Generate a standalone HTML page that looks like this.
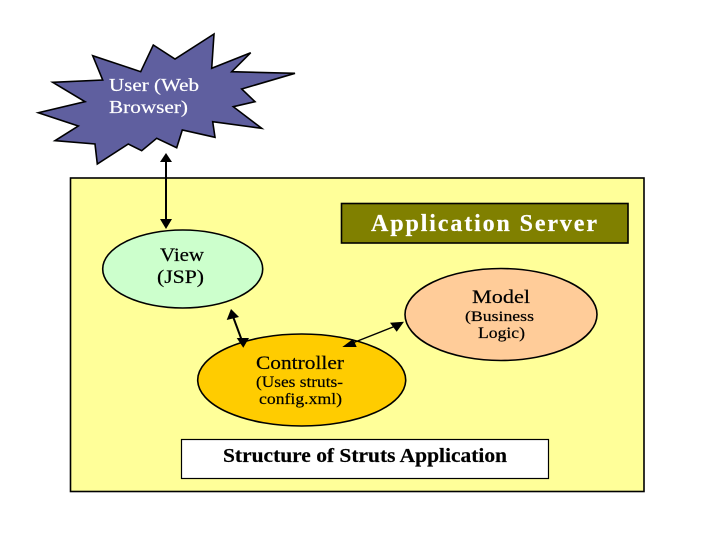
<!DOCTYPE html>
<html>
<head>
<meta charset="utf-8">
<style>
html,body{margin:0;padding:0;background:#fff;}
svg{display:block;}
text{font-family:"Liberation Serif",serif;fill:#000;stroke:#000;stroke-width:.2;}
text.w{fill:#fff;stroke:#fff;}
</style>
</head>
<body>
<svg width="720" height="540" viewBox="0 0 720 540" xmlns="http://www.w3.org/2000/svg">
<rect x="0" y="0" width="720" height="540" fill="#fff"/>
<polygon points="214,34 211.7,68.3 250.7,52.7 231.7,71.7 295,73.3 241.7,89 255,101.7 233.3,106.7 261.7,128.3 212.7,121.7 215,137.3 182.3,130 176.7,147.7 156.7,138.3 141.7,150.7 128.3,144 97.3,164 95,144 55,140.7 78.3,126 38.3,112.7 85,101.7 52.7,82.3 102.7,80 92.7,55.7 140.7,71.7 153.3,45 175,59" fill="#5f5f9f" stroke="#000" stroke-width="1.6" stroke-linejoin="miter"/>
<rect x="70.5" y="178" width="573.5" height="313.5" fill="#ffff99" stroke="#000" stroke-width="1.6"/>
<rect x="341.5" y="203.5" width="286.5" height="39.5" fill="#808000" stroke="#000" stroke-width="1.6"/>
<rect x="181.5" y="439.5" width="367" height="39" fill="#fff" stroke="#000" stroke-width="1.2"/>
<ellipse cx="182.7" cy="269" rx="80" ry="39" fill="#ccffcc" stroke="#000" stroke-width="1.6"/>
<ellipse cx="501" cy="314.5" rx="96" ry="46" fill="#ffcc99" stroke="#000" stroke-width="1.6"/>
<ellipse cx="301.7" cy="380" rx="104" ry="46" fill="#ffcc00" stroke="#000" stroke-width="1.6"/>
<line x1="166" y1="158" x2="166" y2="222" stroke="#000" stroke-width="2"/>
<polygon points="166,153 172,162 160,162" fill="#000"/>
<polygon points="166,229 160,219 172,219" fill="#000"/>
<line x1="231.7" y1="313" x2="241.7" y2="340" stroke="#000" stroke-width="2"/>
<polygon points="231,309 239,317 226.7,320" fill="#000"/>
<polygon points="243.3,347.7 236.7,338 249,338" fill="#000"/>
<line x1="350" y1="344" x2="398" y2="325" stroke="#000" stroke-width="1.4"/>
<polygon points="404,321.7 390,322.7 396.7,331.7" fill="#000"/>
<polygon points="342.3,347 353,339 356.7,347" fill="#000"/>
<text class="w" x="109" y="91" font-size="18" textLength="90" lengthAdjust="spacingAndGlyphs">User (Web</text>
<text class="w" x="109" y="113" font-size="18" textLength="79" lengthAdjust="spacingAndGlyphs">Browser)</text>
<text class="w" x="371" y="231" font-size="24" font-weight="bold" textLength="226" lengthAdjust="spacing">Application Server</text>
<text x="160" y="261" font-size="19" textLength="44" lengthAdjust="spacingAndGlyphs">View</text>
<text x="157" y="283" font-size="19" textLength="47" lengthAdjust="spacingAndGlyphs">(JSP)</text>
<text x="472" y="303" font-size="19" textLength="58" lengthAdjust="spacingAndGlyphs">Model</text>
<text x="465" y="321" font-size="15" textLength="69" lengthAdjust="spacingAndGlyphs">(Business</text>
<text x="478" y="338" font-size="16" textLength="47" lengthAdjust="spacingAndGlyphs">Logic)</text>
<text x="256" y="369" font-size="19" textLength="88" lengthAdjust="spacingAndGlyphs">Controller</text>
<text x="256" y="387" font-size="16" textLength="87" lengthAdjust="spacingAndGlyphs">(Uses struts-</text>
<text x="259" y="404" font-size="16" textLength="83" lengthAdjust="spacingAndGlyphs">config.xml)</text>
<text x="223" y="462" font-size="20" font-weight="bold" textLength="284" lengthAdjust="spacingAndGlyphs">Structure of Struts Application</text>
</svg>
</body>
</html>
